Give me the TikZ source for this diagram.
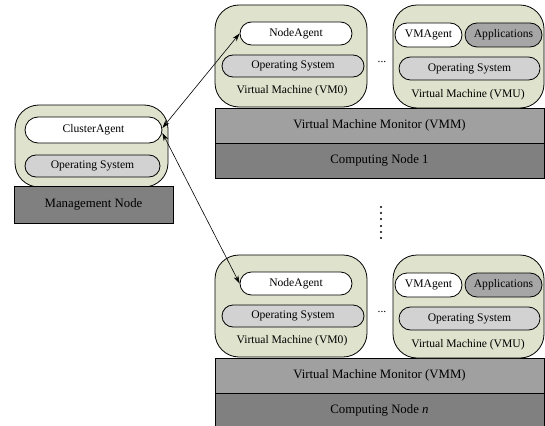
\documentclass[tikz,border=0pt]{standalone}
\usepackage{fontspec}
\setmainfont{Liberation Serif}
\usepackage{tikz}
\usetikzlibrary{shapes.misc, arrows.meta, positioning}

\definecolor{vmgreen}{HTML}{DFE2CC}
\definecolor{osgray}{HTML}{D2D2D2}
\definecolor{appgray}{HTML}{A6A6A6}
\definecolor{vmmgray}{HTML}{A0A0A0}
\definecolor{nodegray}{HTML}{808080}

\newcommand\layerfont{\fontsize{12.8}{15}\selectfont}
\newcommand\vmfont{\fontsize{11.6}{14}\selectfont}

\begin{document}
\begin{tikzpicture}[
  x=1pt, y=-1pt,
  line width=0.8pt,
  vmbox/.style={draw, fill=vmgreen, rounded corners=24pt, inner sep=0pt},
  pill/.style={draw, rounded rectangle, inner sep=0pt, font=\vmfont},
  box/.style={draw, inner sep=0pt, outer sep=0pt, font=\layerfont},
  layer/.style={box, minimum width=329pt, minimum height=35pt},
  vmlabel/.style={inner sep=0pt, font=\vmfont},
  arrow/.style={{Stealth[length=8pt,width=5pt]}-{Stealth[length=8pt,width=5pt]}, line width=0.6pt},
]
\path[use as bounding box, clip] (0,0) rectangle (545,425);

% Management node
\node[vmbox, minimum width=153pt, minimum height=82pt] (mgmtvm) at (91.5,146) {};
\node[pill, fill=white, minimum width=137pt, minimum height=26pt] (cagent) at (93.5,130) {ClusterAgent};
\node[pill, fill=osgray, minimum width=135pt, minimum height=22pt] (mgmtos) at (92.5,166) {Operating System};
\node[box, fill=nodegray, minimum width=159pt, minimum height=37pt] (mgmt) at (93.5,204.5) {Management Node};

% Computing node 1
\node[layer, fill=vmmgray] (vmm1) at (379.5,125.5) {Virtual Machine Monitor (VMM)};
\node[layer, fill=nodegray, below=0pt of vmm1] (cn1) {Computing Node 1};

\node[vmbox, minimum width=152pt, minimum height=102pt] (vm01) at (291,56) {};
\node[pill, fill=white, minimum width=112pt, minimum height=23pt] (na1) at (296,33.5) {NodeAgent};
\node[pill, fill=osgray, minimum width=142pt, minimum height=22pt] (os01) at (293,66) {Operating System};
\node[vmlabel] (vm0lab1) at (292,91) {Virtual Machine (VM0)};

\node[font=\vmfont, inner sep=0pt] (hdots1) at (382,62) {...};

\node[vmbox, minimum width=151pt, minimum height=103pt] (vmu1) at (468.5,56.5) {};
\node[pill, fill=white, minimum width=67pt, minimum height=24pt] (vma1) at (428.5,35) {VMAgent};
\node[pill, fill=appgray, minimum width=77pt, minimum height=24pt] (app1) at (503.5,35) {Applications};
\node[pill, fill=osgray, minimum width=141pt, minimum height=23pt] (osu1) at (469.5,68.5) {Operating System};
\node[vmlabel] (vmulab1) at (468,95) {Virtual Machine (VMU)};

% more computing nodes
\foreach \y in {207,213,219,226,232,238}
  \fill (381,\y) circle (1.1pt);

% Computing node n
\node[layer, fill=vmmgray] (vmm2) at (379.5,375.5) {Virtual Machine Monitor (VMM)};
\node[layer, fill=nodegray, below=0pt of vmm2] (cn2) {Computing Node \textit{n}};

\node[vmbox, minimum width=152pt, minimum height=102pt] (vm02) at (291,306) {};
\node[pill, fill=white, minimum width=112pt, minimum height=23pt] (na2) at (296,283.5) {NodeAgent};
\node[pill, fill=osgray, minimum width=142pt, minimum height=22pt] (os02) at (293,316) {Operating System};
\node[vmlabel] (vm0lab2) at (292,341) {Virtual Machine (VM0)};

\node[font=\vmfont, inner sep=0pt] (hdots2) at (382,312) {...};

\node[vmbox, minimum width=151pt, minimum height=103pt] (vmu2) at (468.5,306.5) {};
\node[pill, fill=white, minimum width=67pt, minimum height=24pt] (vma2) at (428.5,285) {VMAgent};
\node[pill, fill=appgray, minimum width=77pt, minimum height=24pt] (app2) at (503.5,285) {Applications};
\node[pill, fill=osgray, minimum width=141pt, minimum height=23pt] (osu2) at (469.5,318.5) {Operating System};
\node[vmlabel] (vmulab2) at (468,345) {Virtual Machine (VMU)};

% Arrows
\draw[arrow] ([yshift=2pt]cagent.east) -- (na1.west);
\draw[arrow] ([yshift=-3pt]cagent.east) -- (na2.west);

\end{tikzpicture}
\end{document}
